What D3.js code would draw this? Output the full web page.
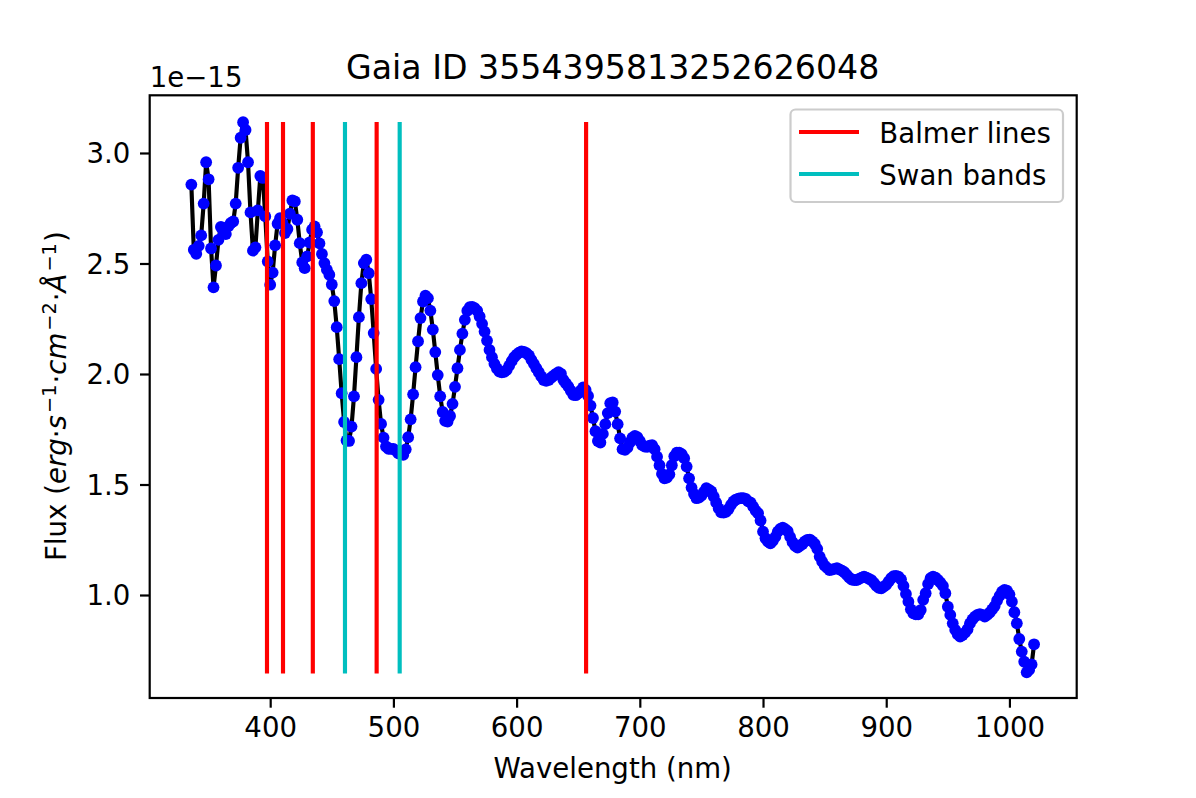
<!DOCTYPE html>
<html>
<head>
<meta charset="utf-8">
<script src="https://cdn.jsdelivr.net/npm/d3@7/dist/d3.min.js"></script>
<style>
html,body{margin:0;padding:0;background:#fff;}
svg{display:block;}
text{font-family:"DejaVu Sans",sans-serif;fill:#000;}
</style>
</head>
<body>
<svg id="chart" width="1196" height="798"></svg>
<script>
const wavelengths = [336,338,340,342,344,346,348,350,352,354,356,358,360,362,364,366,368,370,372,374,376,378,380,382,384,386,388,390,392,394,396,398,400,402,404,406,408,410,412,414,416,418,420,422,424,426,428,430,432,434,436,438,440,442,444,446,448,450,452,454,456,458,460,462,464,466,468,470,472,474,476,478,480,482,484,486,488,490,492,494,496,498,500,502,504,506,508,510,512,514,516,518,520,522,524,526,528,530,532,534,536,538,540,542,544,546,548,550,552,554,556,558,560,562,564,566,568,570,572,574,576,578,580,582,584,586,588,590,592,594,596,598,600,602,604,606,608,610,612,614,616,618,620,622,624,626,628,630,632,634,636,638,640,642,644,646,648,650,652,654,656,658,660,662,664,666,668,670,672,674,676,678,680,682,684,686,688,690,692,694,696,698,700,702,704,706,708,710,712,714,716,718,720,722,724,726,728,730,732,734,736,738,740,742,744,746,748,750,752,754,756,758,760,762,764,766,768,770,772,774,776,778,780,782,784,786,788,790,792,794,796,798,800,802,804,806,808,810,812,814,816,818,820,822,824,826,828,830,832,834,836,838,840,842,844,846,848,850,852,854,856,858,860,862,864,866,868,870,872,874,876,878,880,882,884,886,888,890,892,894,896,898,900,902,904,906,908,910,912,914,916,918,920,922,924,926,928,930,932,934,936,938,940,942,944,946,948,950,952,954,956,958,960,962,964,966,968,970,972,974,976,978,980,982,984,986,988,990,992,994,996,998,1000,1002,1004,1006,1008,1010,1012,1014,1016,1018,1020];
// flux in units of 1e-15
const flux = [2.857,2.562,2.544,2.580,2.627,2.771,2.958,2.881,2.568,2.392,2.491,2.607,2.665,2.645,2.633,2.668,2.683,2.690,2.771,2.933,3.069,3.139,3.104,2.958,2.731,2.558,2.573,2.740,2.896,2.887,2.713,2.509,2.404,2.459,2.582,2.680,2.705,2.683,2.638,2.656,2.725,2.785,2.781,2.698,2.592,2.505,2.479,2.532,2.595,2.653,2.668,2.641,2.591,2.543,2.502,2.472,2.449,2.405,2.330,
2.212,2.067,1.913,1.783,1.699,1.697,1.762,1.899,2.076,2.257,2.411,2.502,2.517,2.456,2.339,2.185,2.023,1.883,1.774,1.712,1.672,1.661,1.661,1.661,1.653,1.641,1.637,1.634,1.659,1.714,1.795,1.908,2.031,2.148,2.253,2.328,2.354,2.343,2.287,2.201,2.099,1.995,1.899,1.828,1.788,1.785,1.810,1.865,1.942,2.026,2.109,2.183,2.245,2.286,2.302,2.304,2.298,2.286,2.260,2.227,2.192,2.151,2.109,2.076,2.046,2.025,2.011,2.007,2.010,2.019,2.038,2.058,2.076,2.088,
2.097,2.102,2.100,2.094,2.084,2.064,2.046,2.026,2.008,1.989,1.973,1.969,1.973,1.983,1.992,2.001,2.008,2.001,1.973,1.958,1.943,1.924,1.906,1.904,1.913,1.925,1.939,1.928,1.901,1.857,1.801,1.741,1.697,1.690,1.729,1.773,1.823,1.868,1.871,1.830,1.773,1.709,1.660,
1.657,1.667,1.691,1.712,1.720,1.714,1.697,1.678,1.672,1.670,1.676,1.678,1.660,1.626,1.587,1.548,1.528,1.531,1.546,1.587,1.628,1.644,1.644,1.637,1.619,1.581,1.528,1.486,1.457,1.438,1.441,1.450,1.466,1.483,1.477,1.469,1.445,1.418,1.392,1.374,1.373,1.376,1.389,1.408,1.423,1.432,1.436,1.438,1.438,1.435,1.424,
1.418,1.400,1.382,1.370,1.337,1.287,1.257,1.242,1.234,1.245,1.263,1.287,1.299,1.305,1.298,1.289,1.263,1.239,1.222,1.215,1.222,1.231,1.243,1.249,1.251,1.243,1.231,1.209,1.174,1.151,1.133,1.123,1.113,1.115,1.118,1.121,1.116,1.110,1.103,1.091,1.079,1.070,1.068,1.068,1.073,1.079,1.083,1.079,1.073,1.067,1.055,1.041,1.032,1.030,1.038,1.046,1.061,1.076,1.085,1.086,1.083,1.071,1.041,1.005,0.970,0.935,0.917,0.913,0.913,0.932,0.978,1.008,1.050,1.076,1.083,1.079,1.068,1.056,1.041,1.008,0.947,0.910,0.872,0.842,0.822,0.812,0.819,0.830,0.845,0.872,0.890,0.902,0.910,0.913,0.910,0.902,0.910,0.920,0.935,0.950,0.975,0.996,1.015,1.023,1.020,1.003,0.970,0.922,0.872,0.801,0.744,0.698,0.650,0.661,0.686,0.777];
const balmerLines = [397.4,410.4,434.6,486.4,656.4];
const swanBands = [460.7,505.1];
const lineBottom = 0.645, lineTop = 3.14;
const xTicks = [400,500,600,700,800,900,1000];
const yTicks = [1.0,1.5,2.0,2.5,3.0];
const titleText = "Gaia ID 3554395813252626048";
const xLabelText = "Wavelength (nm)";
const legendItems = ["Balmer lines","Swan bands"];

const fontPx = 27.6, titlePx = 33.2;
const L = 149.7, R = 1076.7, T = 95.3, B = 698;
const svg = d3.select("#chart");
const x = d3.scaleLinear().domain([302.2,1054.6]).range([L,R]);
const y = d3.scaleLinear().domain([0.534,3.261]).range([B,T]);
const pts = wavelengths.map((w,i)=>[w,flux[i]]);

svg.append("path").datum(pts)
  .attr("fill","none").attr("stroke","#000").attr("stroke-width",4.15)
  .attr("stroke-linejoin","round")
  .attr("d",d3.line().x(d=>x(d[0])).y(d=>y(d[1])));

svg.append("g").selectAll("circle").data(pts).join("circle")
  .attr("cx",d=>x(d[0])).attr("cy",d=>y(d[1])).attr("r",5.9).attr("fill","#0000ff");

function vlines(vals,color){
  svg.append("g").selectAll("line").data(vals).join("line")
    .attr("x1",d=>x(d)).attr("x2",d=>x(d))
    .attr("y1",y(lineBottom)).attr("y2",y(lineTop))
    .attr("stroke",color).attr("stroke-width",4.15);
}
vlines(balmerLines,"#ff0000");
vlines(swanBands,"#00bfbf");

// frame
svg.append("rect").attr("x",L).attr("y",T).attr("width",R-L).attr("height",B-T)
  .attr("fill","none").attr("stroke","#000").attr("stroke-width",2.2);

const xAxis = svg.append("g").attr("transform",`translate(0,${B})`)
  .call(d3.axisBottom(x).tickValues(xTicks).tickSize(9.7).tickPadding(10.2).tickFormat(d3.format("d")));
const yAxis = svg.append("g").attr("transform",`translate(${L},0)`)
  .call(d3.axisLeft(y).tickValues(yTicks).tickSize(9.7).tickPadding(9.7).tickFormat(d3.format(".1f")));
[xAxis,yAxis].forEach(a=>{
  a.select(".domain").remove();
  a.selectAll("line").attr("stroke","#000").attr("stroke-width",2.2);
  a.selectAll("text").style("font-family",'"DejaVu Sans"').style("font-size",fontPx+"px").attr("fill","#000");
});
yAxis.selectAll("text").attr("dy","0.36em");

svg.append("text").attr("x",(L+R)/2-0.5).attr("y",79).attr("text-anchor","middle")
  .style("font-size",titlePx+"px").text(titleText);
svg.append("text").attr("x",L).attr("y",87)
  .style("font-size",fontPx+"px").text("1e\u221215");
svg.append("text").attr("x",(L+R)/2-0.5).attr("y",778).attr("text-anchor","middle")
  .style("font-size",fontPx+"px").text(xLabelText);

// y label with mathtext-like runs
const yl = svg.append("text").attr("transform",`translate(66,${(T+B)/2-0.5}) rotate(-90)`)
  .attr("text-anchor","middle").style("font-size",fontPx+"px");
const sup = fontPx*0.36;
[["Flux (",0,0,1,0],["erg",1,0,1,0],["\u00b7",0,0,1,0],["s",1,0,1,0],["\u22121",0,1,.7,2],["\u00b7",0,-1,1,1],["cm",1,0,1,0],["\u22122",0,1,.7,2],["\u00b7",0,-1,1,1],["\u00c5",1,0,1,0],["\u22121",0,1,.7,2],[")",0,-1,1,1]]
.forEach(([t,it,up,sc,gap])=>{
  yl.append("tspan").text(t)
    .attr("dy",up*-sup)
    .attr("dx",gap)
    .style("font-style",it?"italic":"normal")
    .style("font-size",fontPx*sc+"px");
});

// legend
svg.append("rect").attr("x",790.5).attr("y",109.5).attr("width",272.5).attr("height",92.5).attr("rx",5)
  .attr("fill","#fff").attr("fill-opacity",.8).attr("stroke","#ccc").attr("stroke-width",2.2);
[["#ff0000",132],["#00bfbf",174]].forEach(([c,ly],i)=>{
  svg.append("line").attr("x1",799).attr("x2",859).attr("y1",ly).attr("y2",ly)
    .attr("stroke",c).attr("stroke-width",4.15);
  svg.append("text").attr("x",879.3).attr("y",ly+10.5).style("font-size",fontPx+"px").text(legendItems[i]);
});
</script>
</body>
</html>
